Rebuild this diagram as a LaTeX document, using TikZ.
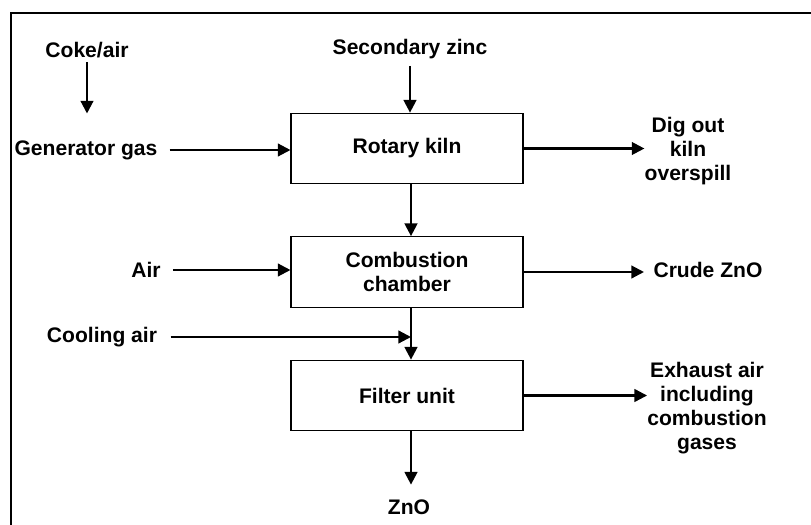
\documentclass[tikz,border=0pt]{standalone}
\usepackage{fontspec}
\setmainfont{Liberation Sans}
\usetikzlibrary{arrows.meta,calc}
\definecolor{ink}{HTML}{000000}
\tikzset{
  unit/.style={draw=ink,line width=0.8pt,minimum width=174pt,minimum height=53pt,align=center,font=\labfont},
  lab/.style={inner sep=0pt,align=center,font=\labfont},
  flow/.style={draw=ink,line width=1.7pt,-{Triangle[length=9.5pt,width=9.5pt]}},
}
\newcommand{\labfont}{\fontsize{15.8}{18}\selectfont\bfseries}

\begin{document}
\begin{tikzpicture}[x=0.75pt,y=-0.75pt]
\useasboundingbox (0,0) rectangle (811,525);
\draw[ink,line width=2pt] (11,525) -- (11,13) -- (811,13);

% process units
\node[unit] (kiln) at (407,148.5) {Rotary kiln};
\node[unit] (comb) at (407,272) {Combustion\\chamber};
\node[unit] (filt) at (407,395.5) {Filter unit};

% inputs and outputs
\node[lab] (coke) at (87,50) {Coke/air};
\node[lab] (zinc) at (410,49) {Secondary zinc};
\node[lab] (gen) at (86,150) {Generator gas};
\node[lab] (dig) at (688,151) {Dig out\\kiln\\overspill};
\node[lab] (air) at (146,270) {Air};
\node[lab] (crude) at (708,270) {Crude ZnO};
\node[lab] (cool) at (102,337) {Cooling air};
\node[lab] (exh) at (707,408) {Exhaust air\\including\\combustion\\gases};
\node[lab] (zno) at (409,507) {ZnO};
\coordinate (drop) at ([xshift=3pt]comb.south);
\coordinate (join) at (drop |- cool);

\draw[flow,shorten <=3pt,shorten >=20pt] (coke) -- (coke |- gen.north);
\draw[flow,shorten <=5pt] (zinc) -- (zinc |- kiln.north);
\draw[flow,shorten <=9pt] (gen) -- (gen -| kiln.west);
\draw[flow] (kiln.east) -- (kiln.east -| dig.west);
\draw[flow] ([xshift=3pt]kiln.south) -- ([xshift=3pt]comb.north);
\draw[flow,shorten <=9pt] (air) -- (air -| comb.west);
\draw[flow,shorten >=7pt] (comb.east) -- (comb.east -| crude.west);
\draw[flow,shorten <=10pt] (cool) -- (join);
\draw[flow] (drop) -- ([xshift=3pt]filt.north);
\draw[flow] (filt.east) -- (filt.east -| exh.west);
\draw[flow,shorten >=11pt] ([xshift=3pt]filt.south) -- ([xshift=3pt]filt.south |- zno.north);
\end{tikzpicture}
\end{document}
